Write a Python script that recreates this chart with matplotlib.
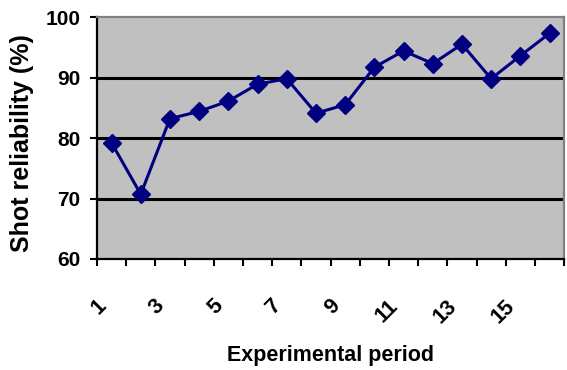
import matplotlib
matplotlib.use('Agg')
import matplotlib.pyplot as plt
import matplotlib.transforms as mtransforms
import numpy as np

plt.rcParams['font.family'] = ['Liberation Sans', 'DejaVu Sans']

periods = list(range(1, 17))
reliability = [79.2, 70.7, 83.2, 84.4, 86.1, 88.9, 89.8, 84.1,
               85.5, 91.7, 94.4, 92.3, 95.5, 89.8, 93.6, 97.3]
y_ticks = [60, 70, 80, 90, 100]
x_labels = ['1', '3', '5', '7', '9', '11', '13', '15']

fig = plt.figure(figsize=(5.67, 3.70), dpi=100)
ax = fig.add_axes([0.171, 0.30, 0.824, 0.654])
ax.set_facecolor('#c0c0c0')

# horizontal gridlines like the old Excel chart
for y in y_ticks[1:-1]:
    ax.axhline(y, color='black', lw=2.2, zorder=1)

ax.plot(periods, reliability, color='#000080', lw=2.2, marker='D',
        markersize=9, markerfacecolor='#000080', markeredgecolor='#000080', zorder=3)

ax.set_xlim(0.5, 16.5)
ax.set_ylim(60, 100)
ax.set_yticks(y_ticks)
ax.set_yticklabels([str(v) for v in y_ticks], fontsize=15, fontweight='bold')

# labels on odd categories, tick marks on category boundaries
ax.set_xticks([int(s) for s in x_labels])
ax.set_xticklabels(x_labels, fontsize=15.5, fontweight='bold', rotation=45,
                   ha='right', va='top', rotation_mode='anchor')
ax.tick_params(axis='x', which='major', length=0, pad=14)
ax.set_xticks(np.arange(0.5, 17, 1), minor=True)
ax.tick_params(axis='x', which='minor', length=5, width=1.5, direction='out')
ax.tick_params(axis='y', length=5, width=1.5, direction='out', pad=7)

# push the rotated labels down-left as in the original
shift = mtransforms.ScaledTranslation(-16 / 100, -17 / 100, fig.dpi_scale_trans)
for lbl in ax.get_xticklabels():
    lbl.set_transform(lbl.get_transform() + shift)

for side in ['left', 'bottom']:
    ax.spines[side].set_color('black')
    ax.spines[side].set_linewidth(1.6)
for side in ['top', 'right']:
    ax.spines[side].set_color('#808080')
    ax.spines[side].set_linewidth(1.6)

ax.set_ylabel('Shot reliability (%)', fontsize=18, fontweight='bold')
ax.yaxis.set_label_coords(-0.135, 0.48)
ax.set_xlabel('Experimental period', fontsize=15.5, fontweight='bold')
ax.xaxis.set_label_coords(0.5, -0.355)

fig.savefig('out.png', dpi=100)
